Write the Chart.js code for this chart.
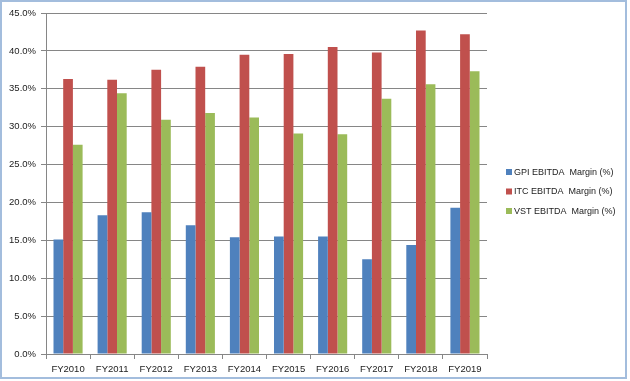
<!DOCTYPE html>
<html>
<head>
<meta charset="utf-8">
<script src="https://cdn.jsdelivr.net/npm/chart.js@4.4.1/dist/chart.umd.min.js"></script>
<style>
  body { margin: 0; background: #fff; }
  #wrap { position: relative; width: 630px; height: 381px; }
  #frame { position: absolute; left: 0; top: 0; width: 623px; height: 375px; border: 2px solid #a3bddd; pointer-events: none; }
</style>
</head>
<body>
<div id="wrap">
  <canvas id="chart" width="630" height="381"></canvas>
  <div id="frame"></div>
</div>
<script>
// categories and series
const years = ['FY2010', 'FY2011', 'FY2012', 'FY2013', 'FY2014', 'FY2015', 'FY2016', 'FY2017', 'FY2018', 'FY2019'];
const gpiMargin = [15.1, 18.3, 18.7, 17.0, 15.4, 15.5, 15.5, 12.5, 14.4, 19.3];
const itcMargin = [36.3, 36.2, 37.5, 37.9, 39.5, 39.6, 40.5, 39.8, 42.7, 42.2];
const vstMargin = [27.6, 34.4, 30.9, 31.8, 31.2, 29.1, 29.0, 33.7, 35.6, 37.3];
const seriesNames = ['GPI EBITDA  Margin (%)', 'ITC EBITDA  Margin (%)', 'VST EBITDA  Margin (%)'];
const yTicks = [0, 5, 10, 15, 20, 25, 30, 35, 40, 45];

const colors = ['#4f81bd', '#c0504d', '#9bbb59'];
const font = { family: 'Liberation Sans, Arial, sans-serif', size: 9.5 };

// legend drawn by hand so it can sit away from the plot like Excel's
const sideLegend = {
  id: 'sideLegend',
  afterDraw: function(chart) {
    const c = chart.ctx;
    const x = chart.chartArea.right + 19;
    const y0 = 172;
    c.save();
    c.font = '9px Liberation Sans, Arial, sans-serif';
    c.textBaseline = 'middle';
    chart.data.datasets.forEach(function(ds, i) {
      const y = y0 + i * 19.5;
      c.fillStyle = ds.backgroundColor;
      c.fillRect(x, y - 3, 6, 6);
      c.fillStyle = '#222';
      c.fillText(ds.label, x + 8, y + 0.5);
    });
    c.restore();
  }
};

const ctx = document.getElementById('chart').getContext('2d');
var chart = new Chart(ctx, {
  type: 'bar',
  data: {
    labels: years,
    datasets: [gpiMargin, itcMargin, vstMargin].map(function(values, i) {
      return {
        label: seriesNames[i],
        data: values,
        backgroundColor: colors[i],
        borderWidth: 0,
        categoryPercentage: 0.66,
        barPercentage: 1.0
      };
    })
  },
  options: {
    responsive: false,
    animation: false,
    layout: { padding: { top: 13, left: 0, right: 143, bottom: 0 } },
    plugins: {
      tooltip: { enabled: false },
      legend: { display: false }
    },
    scales: {
      x: {
        afterFit: function(scale) { scale.height = 27; },
        grid: { drawOnChartArea: false, tickLength: 5, color: '#868686' },
        border: { color: '#868686' },
        ticks: { color: '#222', font: font, padding: 5, maxRotation: 0, autoSkip: false }
      },
      y: {
        min: 0,
        max: 45,
        afterFit: function(scale) { scale.width = 46; },
        afterBuildTicks: function(scale) {
          scale.ticks = yTicks.map(function(v) { return { value: v }; });
        },
        grid: { color: '#868686', tickLength: 5 },
        border: { color: '#868686' },
        ticks: {
          color: '#222',
          font: font,
          padding: 5,
          callback: function(value) { return value.toFixed(1) + '%'; }
        }
      }
    }
  },
  plugins: [sideLegend]
});
</script>
</body>
</html>
